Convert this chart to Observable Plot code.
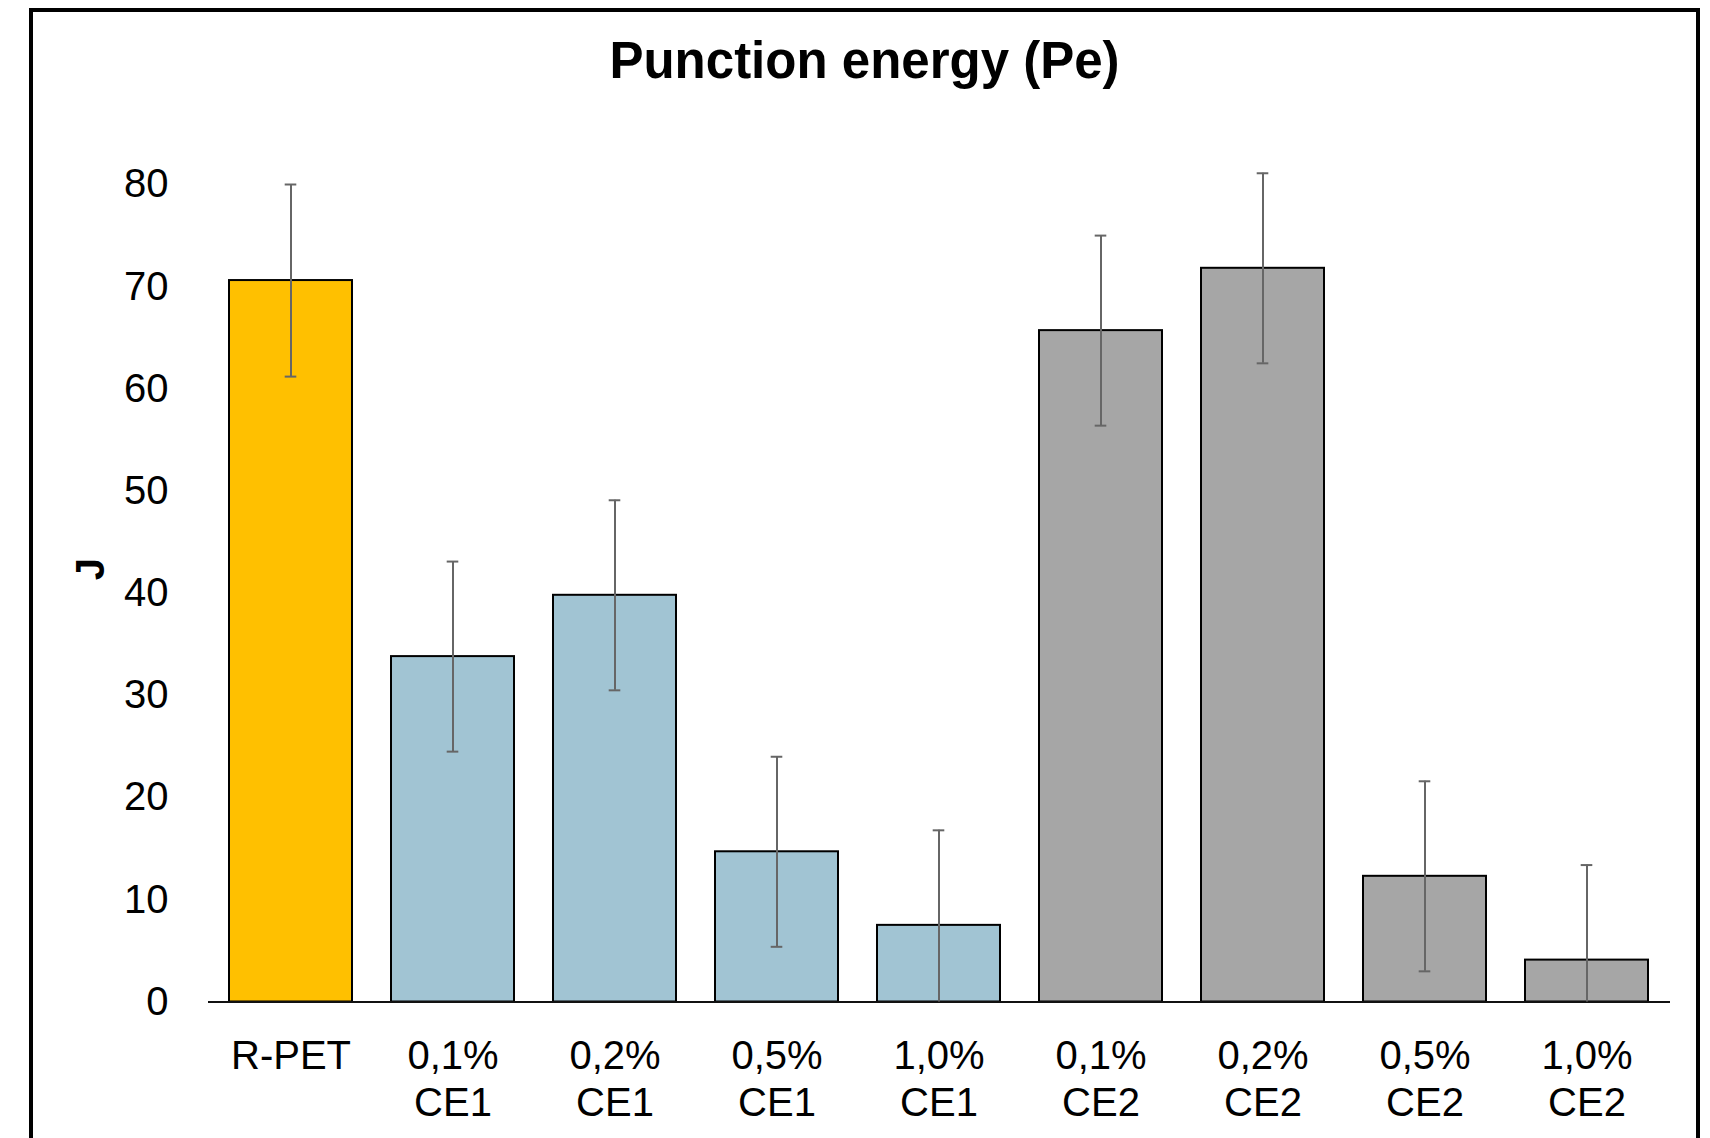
<!DOCTYPE html>
<html>
<head>
<meta charset="utf-8">
<script src="https://cdn.jsdelivr.net/npm/d3@7"></script>
<script src="https://cdn.jsdelivr.net/npm/@observablehq/plot@0.6"></script>
<style>
  html, body { margin: 0; padding: 0; background: #fff; }
  body { width: 1710px; height: 1138px; overflow: hidden; position: relative; font-family: "Liberation Sans", Arial, sans-serif; }
  #title { position: relative; height: 110px; width: 1710px; }
  #title span { position: absolute; left: 29px; width: 1671px; top: 35px; text-align: center; font-size: 51px; line-height: 51px; font-weight: bold; color: #000; }
  #ylabel { position: absolute; left: 90px; top: 569px; transform: translate(-50%, -50%) rotate(-90deg); font-size: 40px; font-weight: bold; line-height: 40px; color: #000; }
  #frame { position: absolute; left: 29px; top: 8px; width: 1671px; height: 1300px; border: 4px solid #000; box-sizing: border-box; pointer-events: none; }
  #chart svg { display: block; }
</style>
</head>
<body>
<div id="title"><span>Punction energy (Pe)</span></div>
<div id="chart"></div>
<div id="ylabel">J</div>
<div id="frame"></div>
<script>
const categories = ["R-PET", "0,1%\nCE1", "0,2%\nCE1", "0,5%\nCE1", "1,0%\nCE1", "0,1%\nCE2", "0,2%\nCE2", "0,5%\nCE2", "1,0%\nCE2"];
const values = [70.6, 33.8, 39.8, 14.7, 7.5, 65.7, 71.8, 12.3, 4.1];
const errors = [9.4, 9.3, 9.3, 9.3, 9.3, 9.3, 9.3, 9.3, 9.3];
const groups = ["R-PET", "CE1", "CE1", "CE1", "CE1", "CE2", "CE2", "CE2", "CE2"];
const groupNames = ["R-PET", "CE1", "CE2"];
const groupColors = ["#FFC000", "#A1C4D3", "#A6A6A6"];
const yTicks = [0, 10, 20, 30, 40, 50, 60, 70, 80];

const data = categories.map((c, i) => ({cat: c, value: values[i], err: errors[i], group: groups[i]}));

const capInset = 55.7;
const errStyle = {stroke: "#666", strokeWidth: 2};

const chart = Plot.plot({
  width: 1710,
  height: 1028,
  marginLeft: 208,
  marginRight: 40,
  marginTop: 74,
  marginBottom: 136.5,
  style: {fontFamily: "'Liberation Sans', Arial, sans-serif", fontSize: "40px", color: "#000", background: "transparent", overflow: "visible"},
  x: {domain: categories, paddingInner: 0.24, paddingOuter: 0.12, label: null},
  y: {domain: [0, 80], label: null},
  color: {domain: groupNames, range: groupColors},
  marks: [
    Plot.barY(data, {x: "cat", y: "value", fill: "group", stroke: "#000", strokeWidth: 2}),
    Plot.ruleY([0], {stroke: "#111", strokeWidth: 2}),
    Plot.ruleX(data, {x: "cat", y1: d => Math.max(0, d.value - d.err), y2: d => d.value + d.err, ...errStyle}),
    Plot.tickY(data, {x: "cat", y: d => d.value + d.err, insetLeft: capInset, insetRight: capInset, ...errStyle}),
    Plot.tickY(data.filter(d => d.value - d.err > 0), {x: "cat", y: d => d.value - d.err, insetLeft: capInset, insetRight: capInset, ...errStyle}),
    Plot.axisX({tickSize: 0, tickPadding: 33, lineHeight: 1.18, fontSize: 40, label: null, fill: "#000"}),
    Plot.axisY({ticks: yTicks, tickSize: 0, tickPadding: 40, fontSize: 40, label: null, fill: "#000"})
  ]
});
document.getElementById("chart").appendChild(chart);
</script>
</body>
</html>
